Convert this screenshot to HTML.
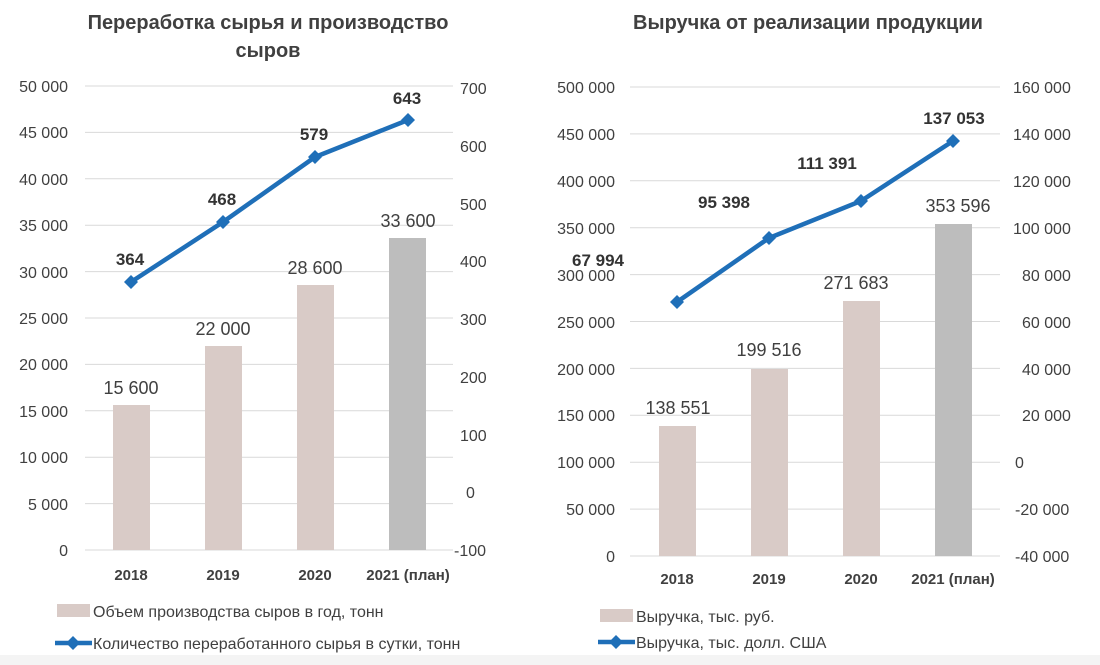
<!DOCTYPE html>
<html><head><meta charset="utf-8"><style>
body{margin:0;background:#fff;}
svg{display:block;font-family:"Liberation Sans","DejaVu Sans",sans-serif;}
</style></head><body>
<svg width="1100" height="665" viewBox="0 0 1100 665" xmlns="http://www.w3.org/2000/svg">
<rect x="0" y="655" width="1100" height="10" fill="#f4f4f4"/>
<g fill="#404040" font-weight="bold" font-size="20" text-anchor="middle">
<text x="268" y="29">Переработка сырья и производство</text>
<text x="268" y="57">сыров</text>
<text x="808" y="29">Выручка от реализации продукции</text>
</g>
<g stroke="#d9d9d9" stroke-width="1">
<line x1="85" x2="453" y1="86" y2="86"/><line x1="85" x2="453" y1="132.4" y2="132.4"/>
<line x1="85" x2="453" y1="178.8" y2="178.8"/><line x1="85" x2="453" y1="225.2" y2="225.2"/>
<line x1="85" x2="453" y1="271.6" y2="271.6"/><line x1="85" x2="453" y1="318" y2="318"/>
<line x1="85" x2="453" y1="364.4" y2="364.4"/><line x1="85" x2="453" y1="410.8" y2="410.8"/>
<line x1="85" x2="453" y1="457.2" y2="457.2"/><line x1="85" x2="453" y1="503.6" y2="503.6"/>
<line x1="85" x2="453" y1="550" y2="550"/>
</g>
<g fill="#404040" font-size="16" text-anchor="end">
<text x="68" y="92">50 000</text><text x="68" y="138">45 000</text><text x="68" y="185">40 000</text>
<text x="68" y="231">35 000</text><text x="68" y="278">30 000</text><text x="68" y="324">25 000</text>
<text x="68" y="370">20 000</text><text x="68" y="417">15 000</text><text x="68" y="463">10 000</text>
<text x="68" y="510">5 000</text><text x="68" y="556">0</text>
</g>
<g fill="#404040" font-size="16" text-anchor="start">
<text x="460" y="94">700</text><text x="460" y="152">600</text><text x="460" y="210">500</text>
<text x="460" y="267">400</text><text x="460" y="325">300</text><text x="460" y="383">200</text>
<text x="460" y="441">100</text><text x="466" y="498">0</text><text x="454" y="556">-100</text>
</g>
<g>
<rect x="113" y="405" width="37" height="145" fill="#d9cbc7"/>
<rect x="205" y="346" width="37" height="204" fill="#d9cbc7"/>
<rect x="297" y="285" width="37" height="265" fill="#d9cbc7"/>
<rect x="389" y="238" width="37" height="312" fill="#bdbdbd"/>
</g>
<g fill="#404040" font-size="18" text-anchor="middle">
<text x="131" y="394">15 600</text><text x="223" y="335">22 000</text>
<text x="315" y="274">28 600</text><text x="408" y="227">33 600</text>
</g>
<polyline points="131,282 223,222 315,157 408,120" fill="none" stroke="#1f6fb8" stroke-width="4.5"/>
<g fill="#1f6fb8">
<path d="M131,275 l7,7 l-7,7 l-7,-7z"/><path d="M223,215 l7,7 l-7,7 l-7,-7z"/>
<path d="M315,150 l7,7 l-7,7 l-7,-7z"/><path d="M408,113 l7,7 l-7,7 l-7,-7z"/>
</g>
<g fill="#333" font-size="17" font-weight="bold" text-anchor="middle">
<text x="130" y="265">364</text><text x="222" y="205">468</text>
<text x="314" y="140">579</text><text x="407" y="104">643</text>
</g>
<g fill="#404040" font-size="15" font-weight="bold" text-anchor="middle">
<text x="131" y="580">2018</text><text x="223" y="580">2019</text>
<text x="315" y="580">2020</text><text x="408" y="580">2021 (план)</text>
</g>
<rect x="57" y="604" width="33" height="13" fill="#d9cbc7"/>
<text x="93" y="617" fill="#404040" font-size="16">Объем производства сыров в год, тонн</text>
<line x1="55" x2="92" y1="643" y2="643" stroke="#1f6fb8" stroke-width="4.5"/>
<path d="M73,636 l7,7 l-7,7 l-7,-7z" fill="#1f6fb8"/>
<text x="93" y="649" fill="#404040" font-size="16">Количество переработанного сырья в сутки, тонн</text>

<g stroke="#d9d9d9" stroke-width="1">
<line x1="630" x2="1000" y1="87" y2="87"/><line x1="630" x2="1000" y1="133.9" y2="133.9"/>
<line x1="630" x2="1000" y1="180.8" y2="180.8"/><line x1="630" x2="1000" y1="227.7" y2="227.7"/>
<line x1="630" x2="1000" y1="274.6" y2="274.6"/><line x1="630" x2="1000" y1="321.5" y2="321.5"/>
<line x1="630" x2="1000" y1="368.4" y2="368.4"/><line x1="630" x2="1000" y1="415.3" y2="415.3"/>
<line x1="630" x2="1000" y1="462.2" y2="462.2"/><line x1="630" x2="1000" y1="509.1" y2="509.1"/>
<line x1="630" x2="1000" y1="556" y2="556"/>
</g>
<g fill="#404040" font-size="16" text-anchor="end">
<text x="615" y="93">500 000</text><text x="615" y="140">450 000</text><text x="615" y="187">400 000</text>
<text x="615" y="234">350 000</text><text x="615" y="281">300 000</text><text x="615" y="328">250 000</text>
<text x="615" y="375">200 000</text><text x="615" y="421">150 000</text><text x="615" y="468">100 000</text>
<text x="615" y="515">50 000</text><text x="615" y="562">0</text>
</g>
<g fill="#404040" font-size="16" text-anchor="start">
<text x="1013" y="93">160 000</text><text x="1013" y="140">140 000</text><text x="1013" y="187">120 000</text>
<text x="1013" y="234">100 000</text><text x="1022" y="281">80 000</text><text x="1022" y="328">60 000</text>
<text x="1022" y="375">40 000</text><text x="1022" y="421">20 000</text><text x="1015" y="468">0</text>
<text x="1015" y="515">-20 000</text><text x="1015" y="562">-40 000</text>
</g>
<g>
<rect x="659" y="426" width="37" height="130" fill="#d9cbc7"/>
<rect x="751" y="369" width="37" height="187" fill="#d9cbc7"/>
<rect x="843" y="301" width="37" height="255" fill="#d9cbc7"/>
<rect x="935" y="224" width="37" height="332" fill="#bdbdbd"/>
</g>
<g fill="#404040" font-size="18" text-anchor="middle">
<text x="678" y="414">138 551</text><text x="769" y="356">199 516</text>
<text x="856" y="289">271 683</text><text x="958" y="212">353 596</text>
</g>
<polyline points="677,302 769,238 861,201 953,141" fill="none" stroke="#1f6fb8" stroke-width="4.5"/>
<g fill="#1f6fb8">
<path d="M677,295 l7,7 l-7,7 l-7,-7z"/><path d="M769,231 l7,7 l-7,7 l-7,-7z"/>
<path d="M861,194 l7,7 l-7,7 l-7,-7z"/><path d="M953,134 l7,7 l-7,7 l-7,-7z"/>
</g>
<g fill="#333" font-size="17" font-weight="bold" text-anchor="middle">
<text x="598" y="266">67 994</text><text x="724" y="208">95 398</text>
<text x="827" y="169">111 391</text><text x="954" y="124">137 053</text>
</g>
<g fill="#404040" font-size="15" font-weight="bold" text-anchor="middle">
<text x="677" y="584">2018</text><text x="769" y="584">2019</text>
<text x="861" y="584">2020</text><text x="953" y="584">2021 (план)</text>
</g>
<rect x="600" y="609" width="33" height="13" fill="#d9cbc7"/>
<text x="636" y="622" fill="#404040" font-size="16">Выручка, тыс. руб.</text>
<line x1="598" x2="635" y1="642" y2="642" stroke="#1f6fb8" stroke-width="4.5"/>
<path d="M616,635 l7,7 l-7,7 l-7,-7z" fill="#1f6fb8"/>
<text x="636" y="648" fill="#404040" font-size="16">Выручка, тыс. долл. США</text>
</svg>
</body></html>
